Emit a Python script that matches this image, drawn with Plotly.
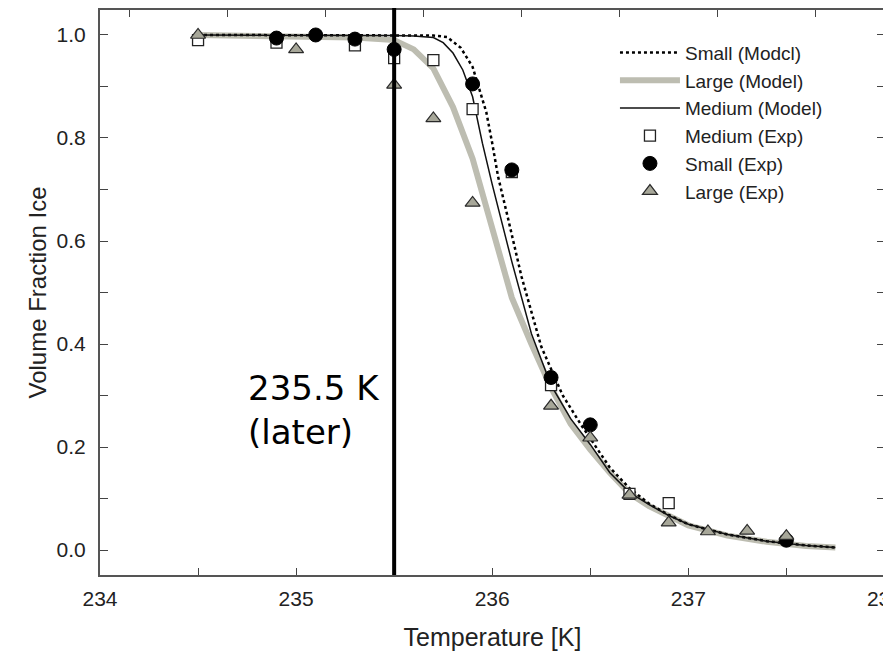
import plotly.graph_objects as go

# ---------------- data ----------------
small_model_x = [234.5, 235.0, 235.5, 235.6, 235.7, 235.77, 235.84, 235.9, 235.93, 235.97, 236.0, 236.03,
                 236.08, 236.15, 236.25, 236.36, 236.45, 236.6, 236.7, 236.8, 236.9, 237.0, 237.2, 237.4,
                 237.6, 237.75]
small_model_y = [1.0, 1.0, 1.0, 1.0, 0.999, 0.996, 0.975, 0.938, 0.90, 0.85, 0.79, 0.725,
                 0.645, 0.53, 0.395, 0.30, 0.245, 0.16, 0.12, 0.09, 0.068, 0.05, 0.03, 0.017,
                 0.009, 0.005]

large_model_x = [234.5, 235.0, 235.3, 235.5, 235.6, 235.7, 235.8, 235.9, 236.0, 236.1, 236.2, 236.3,
                 236.4, 236.5, 236.6, 236.7, 236.8, 236.9, 237.0, 237.2, 237.4, 237.6, 237.75]
large_model_y = [1.0, 0.998, 0.995, 0.99, 0.972, 0.935, 0.86, 0.76, 0.62, 0.49, 0.40, 0.315,
                 0.245, 0.195, 0.15, 0.11, 0.085, 0.065, 0.048, 0.028, 0.016, 0.008, 0.005]

medium_model_x = [234.5, 235.0, 235.5, 235.6, 235.7, 235.75, 235.8, 235.85, 235.9, 235.95, 236.0, 236.1,
                  236.2, 236.3, 236.4, 236.5, 236.6, 236.7, 236.8, 236.9, 237.0, 237.2, 237.4, 237.6,
                  237.75]
medium_model_y = [1.0, 1.0, 0.999, 0.998, 0.995, 0.985, 0.965, 0.932, 0.88, 0.79, 0.71, 0.56,
                  0.42, 0.32, 0.255, 0.205, 0.15, 0.112, 0.088, 0.067, 0.05, 0.03, 0.017, 0.009,
                  0.005]

medium_exp_x = [234.5, 234.9, 235.3, 235.5, 235.7, 235.9, 236.1, 236.3, 236.7, 236.9]
medium_exp_y = [0.99, 0.985, 0.98, 0.955, 0.951, 0.856, 0.734, 0.32, 0.109, 0.091]

small_exp_x = [234.9, 235.1, 235.3, 235.5, 235.9, 236.1, 236.3, 236.5, 237.5]
small_exp_y = [0.994, 1.0, 0.992, 0.972, 0.905, 0.738, 0.335, 0.243, 0.019]

large_exp_x = [234.5, 235.0, 235.5, 235.7, 235.9, 236.3, 236.5, 236.7, 236.9, 237.1, 237.3, 237.5]
large_exp_y = [1.0, 0.972, 0.903, 0.838, 0.674, 0.28, 0.218, 0.107, 0.053, 0.036, 0.037, 0.027]

x_tick_vals = [234, 235, 236, 237, 238]
x_tick_text = ["234", "235", "236", "237", "238"]
y_tick_vals = [0.0, 0.2, 0.4, 0.6, 0.8, 1.0]
y_tick_text = ["0.0", "0.2", "0.4", "0.6", "0.8", "1.0"]
top_tick_vals = [234.15, 234.65, 235.15, 235.65, 236.15, 236.65, 237.15, 237.65]

marker_temp = 235.5
annotation_text = "235.5 K<br>(later)"

# ---------------- figure ----------------
GRAY_LINE = "#bdbdb1"
TRI_FILL = "#a7a799"
FONT = "Liberation Sans, Arial, sans-serif"

fig = go.Figure()

fig.add_trace(go.Scatter(x=large_model_x, y=large_model_y, mode="lines", name="Large (Model)",
                         line=dict(color=GRAY_LINE, width=6), legendrank=2))
fig.add_trace(go.Scatter(x=small_model_x, y=small_model_y, mode="lines", name="Small (Modcl)",
                         line=dict(color="black", width=2.5, dash="dot"), legendrank=1))
fig.add_trace(go.Scatter(x=medium_model_x, y=medium_model_y, mode="lines", name="Medium (Model)",
                         line=dict(color="#111111", width=1.5), legendrank=3))
fig.add_trace(go.Scatter(x=medium_exp_x, y=medium_exp_y, mode="markers", name="Medium (Exp)",
                         marker=dict(symbol="square", size=11, color="white",
                                     line=dict(color="#222222", width=1.3)), legendrank=4))
fig.add_trace(go.Scatter(x=small_exp_x, y=small_exp_y, mode="markers", name="Small (Exp)",
                         marker=dict(symbol="circle", size=14, color="black",
                                     line=dict(color="black", width=1)), legendrank=5))
fig.add_trace(go.Scatter(x=large_exp_x, y=large_exp_y, mode="markers", name="Large (Exp)",
                         marker=dict(symbol="triangle-up", size=13, color=TRI_FILL,
                                     line=dict(color="#2a2a2a", width=1.2)), legendrank=6))
# empty trace carrying the (offset) top tick axis
fig.add_trace(go.Scatter(x=[], y=[], xaxis="x2", showlegend=False, hoverinfo="skip"))

fig.add_shape(type="line", xref="x", yref="paper", x0=marker_temp, x1=marker_temp, y0=0, y1=1.01,
              line=dict(color="black", width=4), layer="above")

fig.add_annotation(x=234.745, y=0.272, xref="x", yref="y", text=annotation_text, showarrow=False,
                   xanchor="left", yanchor="middle", align="left",
                   font=dict(family="Comic Sans MS, DejaVu Sans, sans-serif", size=34, color="black"))

fig.update_layout(
    width=883, height=653,
    margin=dict(l=92, r=6, t=2, b=86, autoexpand=False),
    paper_bgcolor="white", plot_bgcolor="white",
    font=dict(family=FONT, size=21, color="#222222"),
    showlegend=True,
    legend=dict(x=0.656, y=0.958, xanchor="left", yanchor="top", bgcolor="rgba(0,0,0,0)",
                font=dict(size=19, color="#222222"), tracegroupgap=0, itemwidth=60),
    xaxis=dict(range=[234, 238.003], tickvals=x_tick_vals, ticktext=x_tick_text,
               ticks="inside", ticklen=7, tickwidth=1.3, tickcolor="#444444",
               minor=dict(dtick=0.5, tick0=234, ticks="inside", ticklen=7, tickwidth=1.3, tickcolor="#444444"),
               showline=True, linecolor="#555555", linewidth=2, mirror=True,
               showgrid=False, zeroline=False, ticklabeloverflow="allow", automargin=False,
               title=dict(text="Temperature [K]", font=dict(size=25), standoff=19),
               tickfont=dict(size=21), ticklabelstandoff=4),
    xaxis2=dict(range=[234, 238.003], overlaying="x", side="top", anchor="y", tickvals=top_tick_vals,
                ticks="inside", ticklen=7, tickwidth=1.3, tickcolor="#444444", automargin=False,
                showticklabels=False, showline=False, showgrid=False, zeroline=False),
    yaxis=dict(range=[-0.0485, 1.0485], tickvals=y_tick_vals, ticktext=y_tick_text,
               ticks="inside", ticklen=8, tickwidth=1.3, tickcolor="#444444",
               minor=dict(dtick=0.1, tick0=0, ticks="inside", ticklen=8, tickwidth=1.3, tickcolor="#444444"),
               showline=True, linecolor="#555555", linewidth=2, mirror="ticks",
               showgrid=False, zeroline=False, automargin=False,
               title=dict(text="Volume Fraction Ice", font=dict(size=24), standoff=3),
               tickfont=dict(size=21), ticklabelstandoff=8),
)

fig.write_html("out.html")
